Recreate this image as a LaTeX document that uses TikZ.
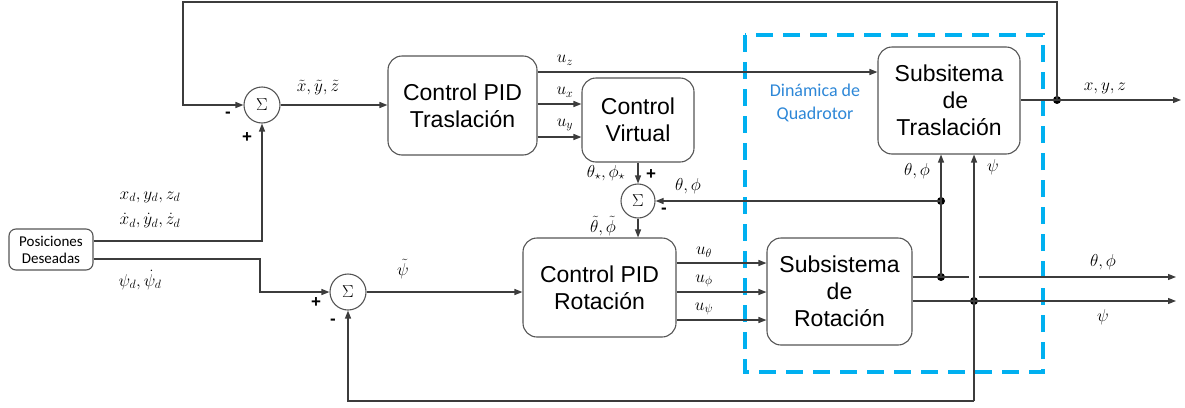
\documentclass[tikz,border=0pt]{standalone}
\usepackage{fontspec}
\newfontfamily\arialf{Liberation Sans}
\newfontfamily\calib{Carlito}
\usetikzlibrary{arrows.meta,calc}
\definecolor{wire}{RGB}{60,60,60}
\definecolor{rim}{RGB}{85,85,85}
\definecolor{quadblue}{RGB}{0,176,240}
\definecolor{quadtext}{RGB}{45,135,215}
\tikzset{
  block/.style={draw=rim,line width=1.1pt,rounded corners=14pt,align=center,
    inner sep=0pt,font=\arialf\fontsize{23}{27}\selectfont},
  sumnode/.style={circle,draw=rim,line width=1.1pt,minimum size=36pt,inner sep=0pt,
    font=\fontsize{17}{17}\selectfont},
  wireline/.style={draw=wire,line width=1.2pt},
  arr/.style={wireline,-{Triangle[length=8pt,width=6pt]}},
  lab/.style={font=\fontsize{18}{20}\selectfont,inner sep=0pt},
  sign/.style={font=\arialf\fontsize{17}{17}\selectfont\bfseries,inner sep=0pt},
  junction/.style={circle,fill=black,minimum size=8pt,inner sep=0pt},
}
\begin{document}
\begin{tikzpicture}[x=1pt,y=-1pt]
\useasboundingbox (0,0) rectangle (1185,407);

% quadrotor dynamics frame
\draw[quadblue,line width=3.5pt,dash pattern=on 17pt off 10pt] (745,35) rectangle (1043,372);
\node[font=\calib\fontsize{18}{23}\selectfont,text=quadtext,align=center] (dyn) at (815,103) {Dinámica de\\Quadrotor};

% blocks
\node[block,minimum width=149pt,minimum height=99pt] (pidT) at (462.5,105.5) {Control PID\\Traslación};
\node[block,minimum width=112pt,minimum height=84pt] (cv) at (638,120) {Control\\Virtual};
\node[block,minimum width=153pt,minimum height=99pt] (pidR) at (599.5,287.5) {Control PID\\Rotación};
\node[block,minimum width=145pt,minimum height=107pt] (subR) at (839.5,291.5) {Subsistema\\de\\Rotación};
\node[block,minimum width=142pt,minimum height=107pt] (subT) at (949,100.5) {Subsitema\\\ \ de\\Traslación};
\node[block,rounded corners=7pt,minimum width=84pt,minimum height=41pt,
      font=\calib\fontsize{15}{17}\selectfont] (pos) at (51,249.5) {Posiciones\\Deseadas};

% summing junctions
\node[sumnode] (s1) at (262,105) {$\Sigma$};
\node[sumnode,minimum size=34pt] (s2) at (638,201) {$\Sigma$};
\node[sumnode] (s3) at (348,292) {$\Sigma$};

% junction points
\coordinate (topR) at (1057,2);
\coordinate (topL) at (183,2);
\coordinate (botR) at (974,401);
\coordinate (botL) at (348,401);
\node[junction] (jxyz) at (1057,100) {};
\node[junction] (jfb) at (941,201) {};
\node[junction] (jang) at (941,277) {};
\node[junction] (jpsi) at (974,301) {};
\coordinate (outxyz) at (1181,100);
\coordinate (outang) at (1176,277);
\coordinate (outpsi) at (1176,301);

% translation loop
\draw[arr] (s1) -- (pidT.west |- s1);
\draw[arr] (pidT.east |- 0,72) -- (subT.west |- 0,72);
\draw[arr] (pidT.east |- 0,104) -- (cv.west |- 0,104);
\draw[arr] (pidT.east |- 0,137) -- (cv.west |- 0,137);
\draw[arr] (cv.south) -- (s2.north);
\draw[arr] (s2.south) -- (s2.south |- pidR.north);
\draw[arr] (subT.east |- jxyz) -- (outxyz);
\draw[arr] (jxyz.center) -- (topR) -- (topL) -- (topL |- s1) -- (s1.west);

% desired references
\draw[arr] (pos.east |- 0,241) -- (s1.south |- 0,241) -- (s1.south);
\draw[arr] (pos.east |- 0,259) -- (260,259) -- (260,292) -- (s3.west);

% rotation loop
\draw[arr] (s3.east) -- (pidR.west |- s3);
\draw[arr] (pidR.east |- 0,263) -- (subR.west |- 0,263);
\draw[arr] (pidR.east |- 0,292) -- (subR.west |- 0,292);
\draw[arr] (pidR.east |- 0,320) -- (subR.west |- 0,320);
\draw[wireline] (subR.east |- jang) -- (969,277);
\draw[arr] (979,277) -- (outang);
\draw[arr] (subR.east |- jpsi) -- (outpsi);
\draw[arr] (jang.center) -- (jang |- subT.south);
\draw[arr] (jfb.center) -- (s2.east);
\draw[arr] (botR) -- (botR |- subT.south);
\draw[arr] (botR) -- (botL) -- (s3.south);

% signal labels
\node[lab] (lxt) at (318,88) {$\tilde{x},\tilde{y},\tilde{z}$};
\node[lab] (luz) at (565,60) {$u_z$};
\node[lab] (lux) at (565,92) {$u_x$};
\node[lab] (luy) at (565,125) {$u_y$};
\node[lab] (lstar) at (606,173) {$\theta_\star,\phi_\star$};
\node[lab] (lfb) at (688,186) {$\theta,\phi$};
\node[lab] (lerr) at (603,226) {$\tilde{\theta},\tilde{\phi}$};
\node[lab] (lpsit) at (403,269) {$\tilde{\psi}$};
\node[lab] (lut) at (704,252) {$u_\theta$};
\node[lab] (luf) at (704,281) {$u_\phi$};
\node[lab] (lup) at (704,309) {$u_\psi$};
\node[lab] (lang1) at (917,171) {$\theta,\phi$};
\node[lab] (lpsi1) at (993,167) {$\psi$};
\node[lab] (lxyz) at (1105,88) {$x,y,z$};
\node[lab] (lang2) at (1103,262) {$\theta,\phi$};
\node[lab] (lpsi2) at (1103,317) {$\psi$};
\node[lab] (lpd) at (150,197) {$x_d,y_d,z_d$};
\node[lab] (lvd) at (150,221) {$\dot{x}_d,\dot{y}_d,\dot{z}_d$};
\node[lab] (lpsd) at (140,280) {$\psi_d,\dot{\psi}_d$};

% signs
\node[sign] (m1) at (228,115) {-};
\node[sign] (p1) at (247,138) {+};
\node[sign] (p2) at (651,175) {+};
\node[sign] (m2) at (664,211) {-};
\node[sign] (p3) at (316,303) {+};
\node[sign] (m3) at (333,322) {-};
\end{tikzpicture}
\end{document}
